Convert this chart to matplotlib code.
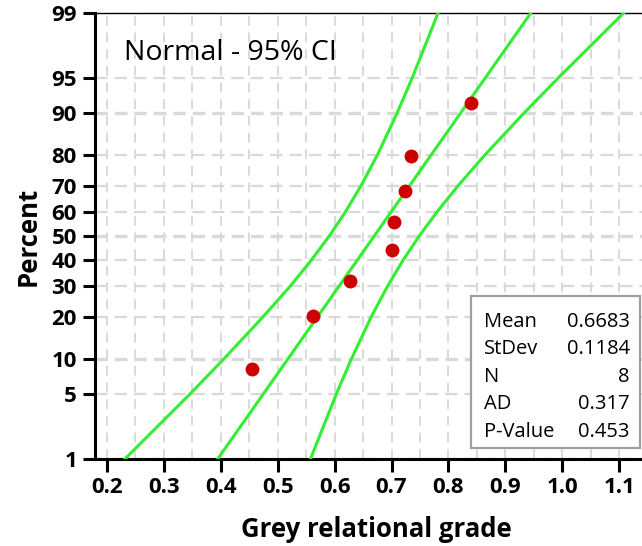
import numpy as np
import matplotlib
matplotlib.use("Agg")
import matplotlib.pyplot as plt
from matplotlib.ticker import FixedLocator, MultipleLocator, NullLocator
from matplotlib.patches import Rectangle
from statistics import NormalDist

# observed grey relational grades (sorted) and their plotting positions (%)
grades = [0.455, 0.562, 0.627, 0.701, 0.704, 0.724, 0.734, 0.840]
percents = [8.3, 20.2, 32.1, 44.0, 56.0, 67.9, 79.8, 91.7]

# fitted line, read at the two ends of the axis
fit_pct = [1, 99]
fit_x = [0.3945, 0.9447]

# 95% confidence band at each percent tick
band_pct = [1, 5, 10, 20, 30, 40, 50, 60, 70, 80, 90, 95, 99]
band_lower = [0.2315, 0.3465, 0.4055, 0.4745, 0.5218, 0.5589, 0.5906,
              0.6191, 0.6463, 0.6748, 0.7097, 0.7360, 0.7817]
band_upper = [0.5575, 0.6032, 0.6295, 0.6644, 0.6929, 0.7201, 0.7486,
              0.7801, 0.8169, 0.8634, 0.9325, 0.9922, 1.1077]

y_ticks = [1, 5, 10, 20, 30, 40, 50, 60, 70, 80, 90, 95, 99]
x_ticks = [0.2, 0.3, 0.4, 0.5, 0.6, 0.7, 0.8, 0.9, 1.0, 1.1]

stat_names = ["Mean", "StDev", "N", "AD", "P-Value"]
stat_values = ["0.6683", "0.1184", "8", "0.317", "0.453"]

GREEN = "#33ee33"
RED = "#cc0000"
GRID = "#d9d9d9"

plt.rcParams["font.family"] = ["Open Sans", "DejaVu Sans"]
plt.rcParams["lines.scale_dashes"] = False

_nd = NormalDist()
_ppf = np.vectorize(_nd.inv_cdf, otypes=[float])
_cdf = np.vectorize(_nd.cdf, otypes=[float])


def pct_to_z(p):
    p = np.clip(np.asarray(p, dtype=float) / 100.0, 1e-9, 1 - 1e-9)
    return _ppf(p)


def z_to_pct(z):
    return _cdf(np.asarray(z, dtype=float)) * 100.0


fig = plt.figure(figsize=(6.42, 5.46), dpi=100)
ax = fig.add_axes([95 / 642, 87 / 546, 547 / 642, 446 / 546])
ax.set_yscale("function", functions=(pct_to_z, z_to_pct))
ax.set_ylim(1, 99)
ax.set_xlim(0.179, 1.140)

ax.plot(band_lower, band_pct, color=GREEN, lw=2.2, zorder=3)
ax.plot(band_upper, band_pct, color=GREEN, lw=2.2, zorder=3)
ax.plot(fit_x, fit_pct, color=GREEN, lw=2.2, zorder=3)
ax.plot(grades, percents, "o", color=RED, ms=10, mec="none", zorder=4)

ax.yaxis.set_major_locator(FixedLocator(y_ticks))
ax.yaxis.set_minor_locator(NullLocator())
ax.set_yticklabels([str(t) for t in y_ticks])
ax.xaxis.set_major_locator(FixedLocator(x_ticks))
ax.xaxis.set_minor_locator(MultipleLocator(0.05))
ax.set_xticklabels(["%.1f" % t for t in x_ticks])

ax.set_axisbelow(True)
ax.grid(True, axis="x", which="both", color=GRID, lw=1.4, ls=(0, (7, 5)))
ax.grid(True, axis="y", which="major", color=GRID, lw=1.6, ls=(0, (9, 5)))
for tick in ax.yaxis.get_major_ticks():
    if tick.get_loc() in (10, 50, 90):
        tick.gridline.set_linewidth(2.4)

ax.tick_params(axis="both", which="major", direction="out", length=9, width=2.2,
               labelsize=16, pad=4)
ax.tick_params(axis="x", which="minor", length=0)
for lab in ax.get_xticklabels() + ax.get_yticklabels():
    lab.set_fontweight("bold")

ax.spines["right"].set_visible(False)
ax.spines["left"].set_linewidth(2.2)
ax.spines["bottom"].set_linewidth(2.2)
ax.spines["top"].set_linewidth(1.0)

ax.set_xlabel("Grey relational grade", fontsize=18.5, fontweight="bold")
ax.xaxis.set_label_coords(0.514, -0.127)
ax.set_ylabel("Percent", fontsize=18.5, fontweight="bold")
ax.yaxis.set_label_coords(-0.097, 0.5)

ax.text(0.053, 0.8946, "Normal - 95% CI", transform=ax.transAxes, fontsize=20.5,
        ha="left", va="baseline")

box = Rectangle((0.687, 0.0247), 0.309, 0.341, transform=ax.transAxes,
                facecolor="white", edgecolor="#a0a0a0", lw=1.6, zorder=5)
ax.add_patch(box)
for i, (name, val) in enumerate(zip(stat_names, stat_values)):
    y = 0.2966 - i * 0.0616
    ax.text(0.711, y, name, transform=ax.transAxes, fontsize=14.5,
            ha="left", va="baseline", zorder=6)
    ax.text(0.978, y, val, transform=ax.transAxes, fontsize=14.5,
            ha="right", va="baseline", zorder=6)

fig.savefig("out.png", dpi=100)
